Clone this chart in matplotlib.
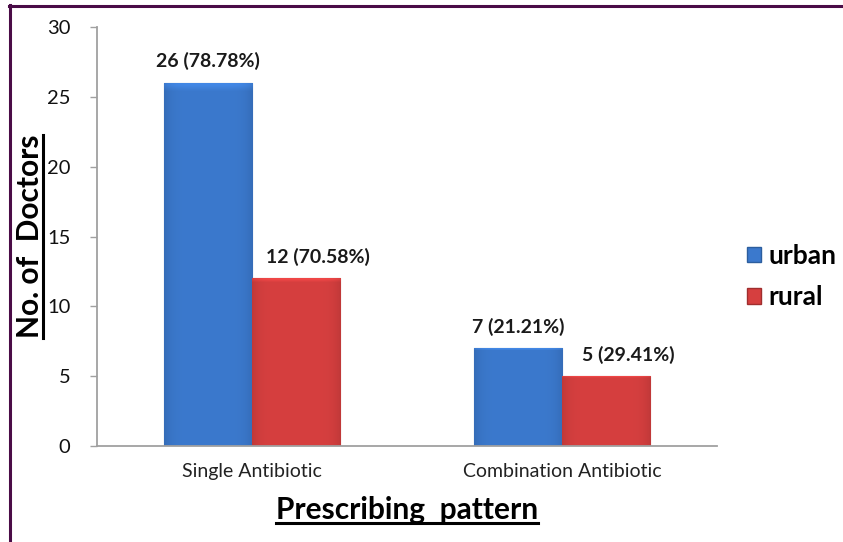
import matplotlib
matplotlib.use('Agg')
import matplotlib.pyplot as plt
import numpy as np
from matplotlib.lines import Line2D
from matplotlib.patches import Patch

plt.rcParams['font.family'] = ['Lato', 'DejaVu Sans']

categories = ['Single Antibiotic', 'Combination Antibiotic']
urban = [26, 7]
rural = [12, 5]
urban_pct = [78.78, 21.21]
rural_pct = [70.58, 29.41]
yticks = [0, 5, 10, 15, 20, 25, 30]

blue = '#3b79cd'
blue_edge = '#2c5e9e'
red = '#d63f3f'
red_edge = '#a02e2e'

fig = plt.figure(figsize=(8.43, 5.42), dpi=100)
ax = fig.add_axes([0.115, 0.177, 0.7355, 0.773])

x = np.arange(len(categories))
w = 0.285


def shade(ax, bars, base):
    # soft bevel: lighter centre, darker sides, light top rim
    rgb = np.array(matplotlib.colors.to_rgb(base))
    for b in bars:
        nx, ny = 60, 60
        u = np.linspace(-1, 1, nx)
        v = np.linspace(0, 1, ny)
        prof = 1.0 - 0.10 * np.abs(u) ** 6
        top = np.where(v[:, None] > 0.985, 1.12, 1.0)
        img = np.clip(rgb[None, None, :] * prof[None, :, None] * top[..., None], 0, 1)
        x0, y0 = b.get_x(), b.get_y()
        im = ax.imshow(img, extent=[x0, x0 + b.get_width(), y0, y0 + b.get_height()],
                       origin='lower', aspect='auto', zorder=2.5, interpolation='bilinear')
        im.set_clip_path(b)


b1 = ax.bar(x - w / 2, urban, w, color=blue, edgecolor=blue_edge, linewidth=0.8, zorder=2)
b2 = ax.bar(x + w / 2, rural, w, color=red, edgecolor=red_edge, linewidth=0.8, zorder=2)
shade(ax, b1, blue)
shade(ax, b2, red)

for i in range(len(categories)):
    ax.annotate(f'{urban[i]} ({urban_pct[i]:.2f}%)', (x[i] - w / 2, urban[i]),
                xytext=(0, 9), textcoords='offset points', ha='center', va='bottom',
                fontsize=14, fontweight='bold', color='#1a1a1a')
    ax.annotate(f'{rural[i]} ({rural_pct[i]:.2f}%)', (x[i] + w / 2, rural[i]),
                xytext=(16, 9), textcoords='offset points', ha='center', va='bottom',
                fontsize=14, fontweight='bold', color='#1a1a1a')

ax.set_xlim(-0.5, 1.5)
ax.set_ylim(0, 30)
ax.set_yticks(yticks)
ax.set_xticks(x)
ax.set_xticklabels(categories, fontsize=14, color='#222222')
ax.tick_params(axis='x', length=0, pad=12)
ax.tick_params(axis='y', labelsize=14.5, length=5, width=1, color='#a0a0a0',
               labelcolor='#111111', pad=14)
for s in ['top', 'right']:
    ax.spines[s].set_visible(False)
for s in ['left', 'bottom']:
    ax.spines[s].set_color('#a0a0a0')
    ax.spines[s].set_linewidth(1.3)

xl = ax.set_xlabel('Prescribing  pattern', fontsize=21.5, fontweight='bold', labelpad=12)
yl = ax.set_ylabel('No. of  Doctors', fontsize=21.5, fontweight='bold', labelpad=2)

handles = [Patch(facecolor=blue, edgecolor=blue_edge), Patch(facecolor=red, edgecolor=red_edge)]
leg = fig.legend(handles, ['urban', 'rural'], loc='center left', bbox_to_anchor=(0.886, 0.49),
                 frameon=False, prop={'weight': 'bold', 'size': 19}, handlelength=0.55,
                 handleheight=0.55, handletextpad=0.25, labelspacing=0.65,
                 borderpad=0, borderaxespad=0)

# underline the axis titles
fig.canvas.draw()
r = fig.canvas.get_renderer()
inv = fig.transFigure.inverted()
bb = xl.get_window_extent(r)
(a0, b0), (a1, b1_) = inv.transform([(bb.x0, bb.y0 + 1), (bb.x1, bb.y0 + 1)])
fig.add_artist(Line2D([a0, a1], [b0, b1_], color='black', lw=2.2, transform=fig.transFigure))
bb = yl.get_window_extent(r)
(a0, b0), (a1, b1_) = inv.transform([(bb.x1 - 1, bb.y0), (bb.x1 - 1, bb.y1)])
fig.add_artist(Line2D([a0, a1], [b0, b1_], color='black', lw=2.2, transform=fig.transFigure))

# frame along the top and left edges
fig.add_artist(Line2D([9.5 / 843, 9.5 / 843], [0, 1 - 5 / 542], color='#4a0c47', lw=2.2,
                      transform=fig.transFigure))
fig.add_artist(Line2D([9 / 843, 1], [1 - 5.5 / 542, 1 - 5.5 / 542], color='#4a0c47', lw=2.2,
                      transform=fig.transFigure))

fig.savefig('out.png', dpi=100)
